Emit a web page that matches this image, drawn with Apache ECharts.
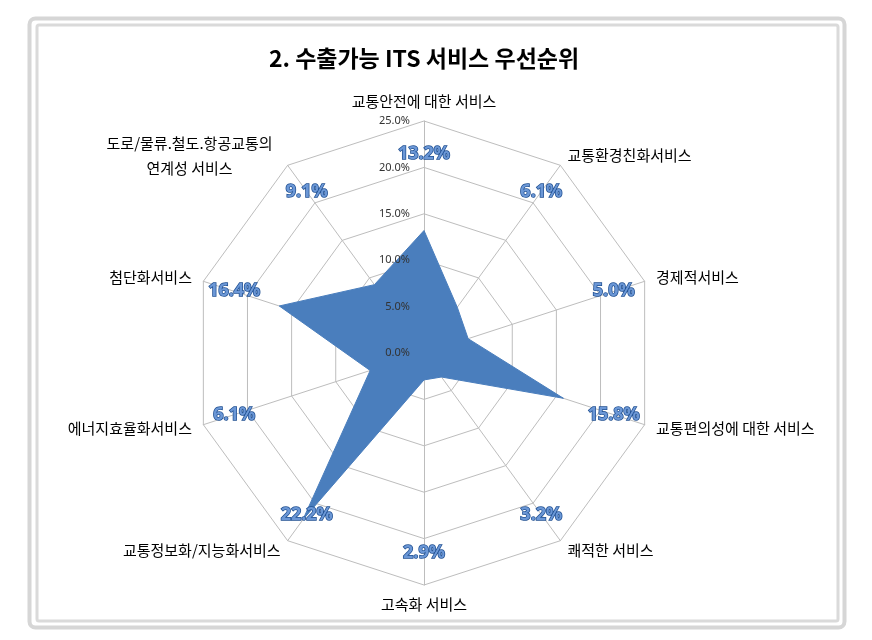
<!DOCTYPE html>
<html><head><meta charset="utf-8">
<script src="https://cdn.jsdelivr.net/npm/echarts@6/dist/echarts.min.js"></script>
<style>html,body{margin:0;padding:0;background:#fff}#c{width:872px;height:640px}</style>
</head><body><div id="c"></div>
<script>
// Categories in clockwise order starting from the top (as in the reference)
const categories = ['교통안전에 대한 서비스', '교통환경친화서비스', '경제적서비스', '교통편의성에 대한 서비스', '쾌적한 서비스', '고속화 서비스', '교통정보화/지능화서비스', '에너지효율화서비스', '첨단화서비스', '도로/물류.철도.항공교통의\n연계성 서비스'];
const values = [13.2, 6.1, 5.0, 15.8, 3.2, 2.9, 22.2, 6.1, 16.4, 9.1];
const tickLabels = ['0.0%', '5.0%', '10.0%', '15.0%', '20.0%', '25.0%'];
const titleText = '2. 수출가능 ITS 서비스 우선순위';

const FONT = '"Noto Sans CJK KR", "Noto Sans", sans-serif';
// ECharts radar runs counter-clockwise: reorder so that the drawing is clockwise
const order = [0, 9, 8, 7, 6, 5, 4, 3, 2, 1];
const cats = order.map(i => categories[i]);
const vals = order.map(i => values[i]);
const LABEL_R = 21.5; // radial position of value labels (axis units)
const labelPos = vals.map(() => LABEL_R);
const CENTER = [424, 353], RADIUS = 232;

const indicator = cats.map(name => ({ name: name, min: 0, max: 25 }));

const chart = echarts.init(document.getElementById('c'), null, { renderer: 'canvas' });
chart.setOption({
  animation: false,
  backgroundColor: '#ffffff',
  graphic: [
    { type: 'rect', shape: { x: 29.5, y: 18.5, width: 815, height: 609, r: 6 }, style: { fill: 'none', stroke: '#d6d6d6', lineWidth: 4 }, z: -10 },
    { type: 'rect', shape: { x: 37, y: 25, width: 801, height: 596, r: 2 }, style: { fill: 'none', stroke: '#dadada', lineWidth: 3 }, z: -10 },
    { type: 'text', x: 424, y: 58, style: { text: titleText, align: 'center', verticalAlign: 'middle', font: 'bold 23px ' + FONT, fill: '#000' } }
  ],
  radar: {
    center: CENTER,
    radius: RADIUS,
    startAngle: 90,
    shape: 'polygon',
    splitNumber: 5,
    nameGap: 12,
    indicator: indicator,
    axisName: {
      color: '#000',
      fontSize: 15,
      fontFamily: FONT,
      formatter: function (name) {
        if (name.indexOf('\n') >= 0) {
          return name.split('\n').map(l => '{c|' + l + '}').join('\n');
        }
        return name;
      },
      rich: { c: { width: 182, align: 'center', fontSize: 15, lineHeight: 25, color: '#000', fontFamily: FONT } }
    },
    axisLine: { lineStyle: { color: '#bdbdbd', width: 1 } },
    splitLine: { lineStyle: { color: '#bdbdbd', width: 1 } },
    splitArea: { show: false },
    axisTick: { show: false },
    axisLabel: { show: false }
  },
  polar: { center: CENTER, radius: RADIUS, z: 10 },
  angleAxis: { type: 'value', min: 0, max: 360, startAngle: 90, show: false, z: 10 },
  radiusAxis: {
    type: 'value', min: 0, max: 25, interval: 5, z: 10,
    axisLine: { show: false }, axisTick: { show: false }, splitLine: { show: false },
    axisLabel: {
      show: true,
      fontSize: 11,
      fontFamily: '"Noto Sans", sans-serif',
      color: '#333',
      margin: 14,
      formatter: function (v) { return tickLabels[Math.round(v / 5)]; }
    }
  },
  series: [
    {
      type: 'radar',
      symbol: 'none',
      silent: true,
      z: 2,
      data: [{ value: vals, name: 'ITS' }],
      lineStyle: { color: '#4a7ebd', width: 1 },
      areaStyle: { color: '#4a7ebd', opacity: 1 }
    },
    {
      type: 'radar',
      symbol: 'circle',
      symbolSize: 2,
      silent: true,
      z: 12,
      itemStyle: { color: 'rgba(0,0,0,0)', borderWidth: 0 },
      lineStyle: { color: 'rgba(0,0,0,0)', width: 0 },
      data: [{ value: labelPos, name: 'labels' }],
      label: {
        show: true,
        position: 'inside',
        fontFamily: '"Noto Sans", sans-serif',
        fontWeight: 'bold',
        fontSize: 18,
        color: '#6b97d6',
        textBorderColor: '#1f4f91',
        textBorderWidth: 1.5,
        formatter: function (p) {
          const i = p.dimensionIndex;
          return vals[i].toFixed(1) + '%';
        }
      }
    }
  ]
});
</script></body></html>
